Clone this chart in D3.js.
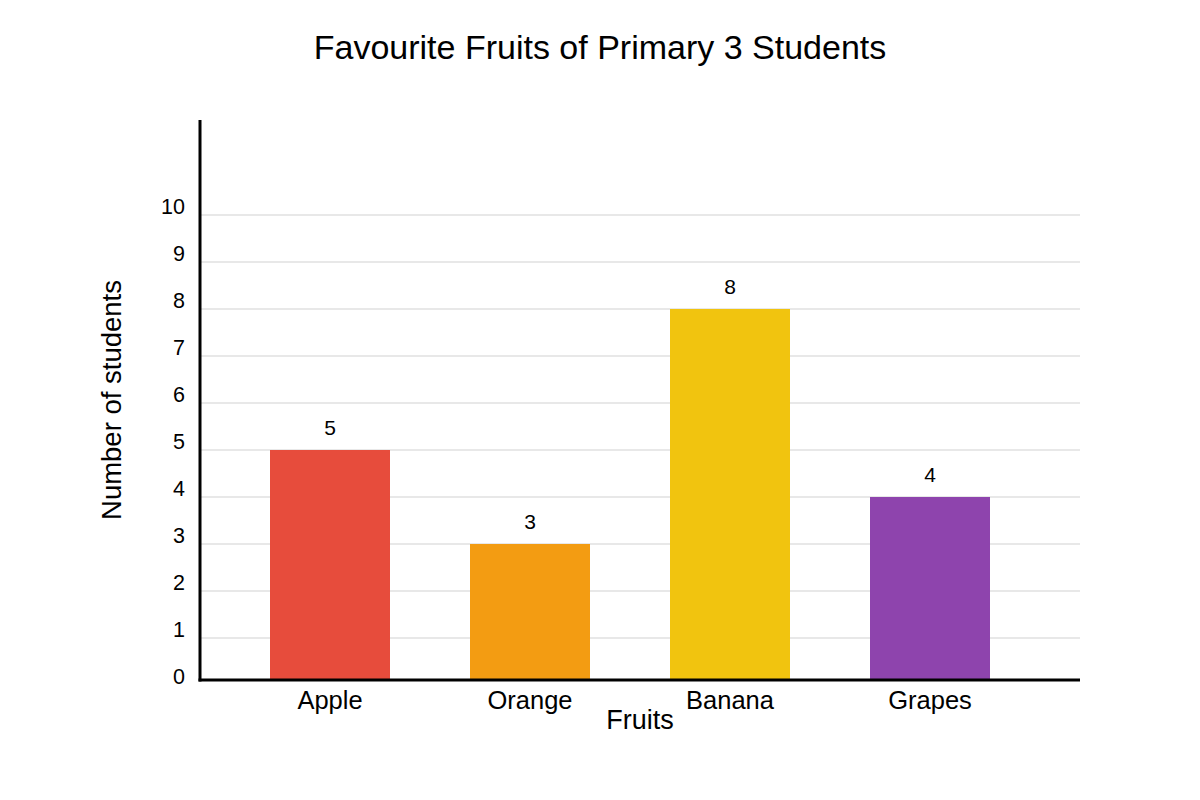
<!DOCTYPE html>
<html>
<head>
<meta charset="utf-8">
<script src="https://cdn.jsdelivr.net/npm/d3@7"></script>
<style>
  body { margin: 0; background: #fff; }
  svg text { font-family: "Liberation Sans", Arial, sans-serif; fill: #000; }
</style>
</head>
<body>
<svg id="chart" width="1200" height="800"></svg>
<script>
const fruits = ["Apple", "Orange", "Banana", "Grapes"];
const students = [5, 3, 8, 4];
const barColors = ["#e74c3c", "#f39c12", "#f1c40f", "#8e44ad"];
const yTicks = [0, 1, 2, 3, 4, 5, 6, 7, 8, 9, 10];

const svg = d3.select("#chart");
const axisY = 680;

const x = d3.scaleBand().domain(fruits).range([230, 1030]).paddingInner(0.4).paddingOuter(0.2);
const y = d3.scaleLinear().domain([0, 12]).range([685, 121]);
const color = d3.scaleOrdinal().domain(fruits).range(barColors);

// gridlines
svg.append("g").selectAll("line").data(yTicks.filter(d => d > 0)).join("line")
  .attr("x1", 200).attr("x2", 1080)
  .attr("y1", d => y(d)).attr("y2", d => y(d))
  .attr("stroke", "#e0e0e0").attr("stroke-width", 1.5);

// tick labels, sitting just above each gridline
svg.append("g").selectAll("text").data(yTicks).join("text")
  .attr("x", 185).attr("y", d => y(d) - 7)
  .attr("text-anchor", "end").attr("dominant-baseline", "middle")
  .attr("font-size", 21.5)
  .text(d => d);

// bars
const data = fruits.map((f, i) => ({ fruit: f, value: students[i] }));
svg.append("g").selectAll("rect").data(data).join("rect")
  .attr("x", d => x(d.fruit))
  .attr("y", d => y(d.value))
  .attr("width", x.bandwidth())
  .attr("height", d => axisY - y(d.value))
  .attr("fill", d => color(d.fruit));

// value labels
svg.append("g").selectAll("text").data(data).join("text")
  .attr("x", d => x(d.fruit) + x.bandwidth() / 2)
  .attr("y", d => y(d.value) - 15)
  .attr("text-anchor", "middle").attr("font-size", 21)
  .text(d => d.value);

// axes lines
svg.append("line").attr("x1", 200).attr("x2", 200).attr("y1", 120).attr("y2", axisY + 1.5)
  .attr("stroke", "#000").attr("stroke-width", 3);
svg.append("line").attr("x1", 198.5).attr("x2", 1080).attr("y1", axisY).attr("y2", axisY)
  .attr("stroke", "#000").attr("stroke-width", 3);

// category labels
svg.append("g").selectAll("text").data(fruits).join("text")
  .attr("x", d => x(d) + x.bandwidth() / 2)
  .attr("y", 709)
  .attr("text-anchor", "middle").attr("font-size", 25.5)
  .text(d => d);

svg.append("text").attr("x", 640).attr("y", 729)
  .attr("text-anchor", "middle").attr("font-size", 27)
  .text("Fruits");

svg.append("text")
  .attr("transform", "translate(121,400) rotate(-90)")
  .attr("text-anchor", "middle").attr("font-size", 27.5)
  .text("Number of students");

svg.append("text").attr("x", 600).attr("y", 59)
  .attr("text-anchor", "middle").attr("font-size", 34)
  .text("Favourite Fruits of Primary 3 Students");
</script>
</body>
</html>
